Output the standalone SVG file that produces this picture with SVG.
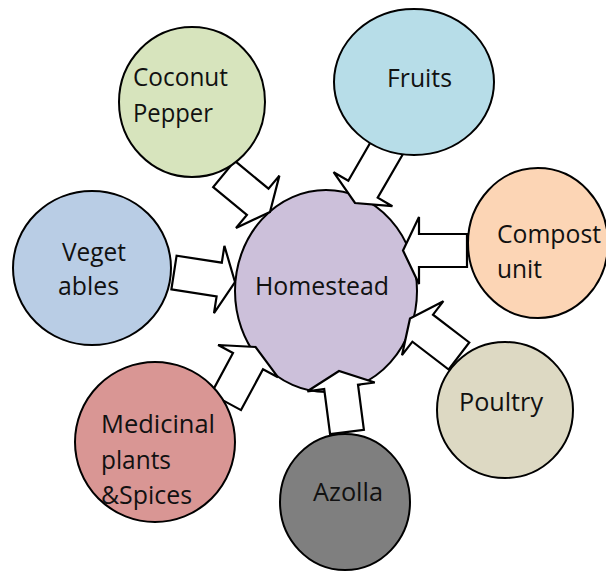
<svg xmlns="http://www.w3.org/2000/svg" width="606" height="584" viewBox="0 0 606 584">
<style>
.n{stroke:#000;stroke-width:2}
.a{fill:#fff;stroke:#000;stroke-width:2.2;stroke-linejoin:miter}
text{font-family:"Open Sans","Liberation Sans",sans-serif;font-size:25px;fill:#111}
</style>
<rect width="606" height="584" fill="#fff"/>
<g id="homestead">
<ellipse class="n" cx="326" cy="291" rx="91" ry="101" fill="#ccc0da"/>
<text x="255" y="295" textLength="134" lengthAdjust="spacingAndGlyphs">Homestead</text>
</g>
<g id="connectors">
<polygon class="a" points="213.2,187.1 246.9,214.9 236,228 270,212 279.4,175.6 268.5,188.7 234.8,160.9"/>
<polygon class="a" points="402.7,154.5 377.7,197.7 392.4,206.2 355,203 333.6,172.2 348.3,180.7 373.3,137.5"/>
<polygon class="a" points="467,267 419,267 419,284 403,250.5 419,217 419,234 467,234"/>
<polygon class="a" points="469.3,342.5 433,314.7 443.4,301.2 410,318.5 402,355.2 412.4,341.7 448.7,369.5"/>
<polygon class="a" points="363.9,429.8 358,384.7 374.8,382.5 339,371 307.4,391.3 324.2,389.1 330.1,434.2"/>
<polygon class="a" points="241,410.1 263,369.2 277.9,377.2 255.6,347 218.1,345 233,353 211,393.9"/>
<polygon class="a" points="171.4,289.3 216.6,296.3 214,313.1 235,282 224.4,245.9 221.8,262.7 176.6,255.7"/>
</g>
<g id="coconut">
<ellipse class="n" cx="192" cy="102" rx="73" ry="75" fill="#d7e4bd"/>
<text x="133" y="86" textLength="95" lengthAdjust="spacingAndGlyphs">Coconut</text>
<text x="133" y="122" textLength="80" lengthAdjust="spacingAndGlyphs">Pepper</text>
</g>
<g id="fruits">
<ellipse class="n" cx="414" cy="82" rx="80" ry="73" fill="#b7dde8"/>
<text x="387" y="87" textLength="65" lengthAdjust="spacingAndGlyphs">Fruits</text>
</g>
<g id="compost">
<ellipse class="n" cx="538" cy="243" rx="70" ry="75" fill="#fcd5b5"/>
<text x="497" y="243" textLength="104" lengthAdjust="spacingAndGlyphs">Compost</text>
<text x="497" y="278" textLength="45" lengthAdjust="spacingAndGlyphs">unit</text>
</g>
<g id="vegetables">
<ellipse class="n" cx="92" cy="268" rx="79" ry="77" fill="#b9cde5"/>
<text x="62" y="261" textLength="64" lengthAdjust="spacingAndGlyphs">Veget</text>
<text x="58" y="295" textLength="61" lengthAdjust="spacingAndGlyphs">ables</text>
</g>
<g id="poultry">
<ellipse class="n" cx="505" cy="410" rx="68" ry="68" fill="#ddd9c3"/>
<text x="459" y="411" textLength="84" lengthAdjust="spacingAndGlyphs">Poultry</text>
</g>
<g id="medicinal">
<ellipse class="n" cx="155" cy="442" rx="80" ry="80" fill="#d99694"/>
<text x="101" y="433" textLength="114" lengthAdjust="spacingAndGlyphs">Medicinal</text>
<text x="101" y="469" textLength="70" lengthAdjust="spacingAndGlyphs">plants</text>
<text x="101" y="504" textLength="91" lengthAdjust="spacingAndGlyphs">&amp;Spices</text>
</g>
<g id="azolla">
<ellipse class="n" cx="345" cy="502" rx="65" ry="68" fill="#7f7f7f"/>
<text x="313" y="501" textLength="70" lengthAdjust="spacingAndGlyphs">Azolla</text>
</g>
</svg>
